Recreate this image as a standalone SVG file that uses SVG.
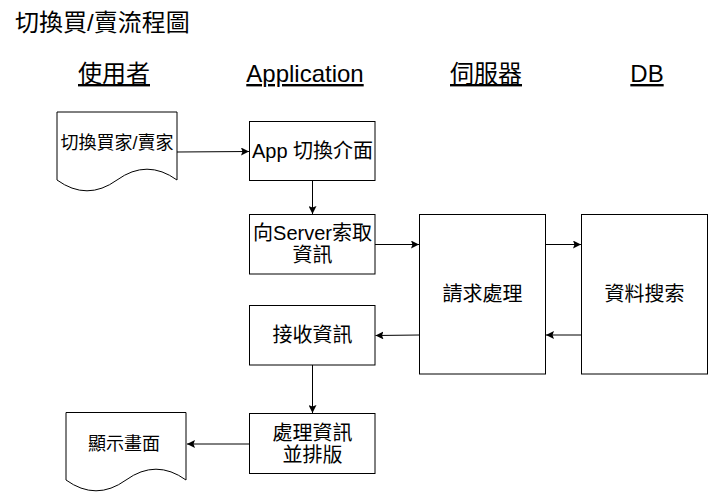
<svg xmlns="http://www.w3.org/2000/svg" width="727" height="503" viewBox="0 0 727 503">
<style>
text{font-family:"Liberation Sans","Noto Sans CJK TC",sans-serif;fill:#000}
.t{font-size:24px}
.h{font-size:24px;text-anchor:middle;text-decoration:underline}
.n{font-size:20px;text-anchor:middle}
.d{font-size:18px;text-anchor:middle}
.box{fill:#fff;stroke:#000;stroke-width:1}
.c{fill:none;stroke:#000;stroke-width:1;marker-end:url(#a)}
</style>
<defs>
<marker id="a" markerWidth="9" markerHeight="8" refX="8" refY="4" orient="auto" markerUnits="userSpaceOnUse">
<path d="M0,0 L8,4 L0,8 L1.5,4 z" fill="#000"/>
</marker>
</defs>
<rect width="727" height="503" fill="#fff"/>
<text class="t" x="15" y="31">切換買/賣流程圖</text>
<g id="headers">
<text class="h" x="114" y="82">使用者</text>
<text class="h" x="305" y="82">Application</text>
<text class="h" x="486" y="82">伺服器</text>
<text class="h" x="647" y="82">DB</text>
</g>
<g id="connectors">
<path class="c" d="M177,152 L249,151.5"/>
<path class="c" d="M312.5,180.5 V214"/>
<path class="c" d="M375,244.5 H419"/>
<path class="c" d="M545.5,244.5 H581"/>
<path class="c" d="M581.5,335 H546"/>
<path class="c" d="M419.5,335 L375.5,335.5"/>
<path class="c" d="M312.5,365 V413"/>
<path class="c" d="M249.5,444 H187"/>
</g>
<g id="doc1">
<path class="box" d="M57,112 H177 V180 Q147,158.4 117,180 Q87,201.6 57,180 Z"/>
<text class="d" x="117" y="149">切換買家/賣家</text>
</g>
<g id="app1">
<rect class="box" x="249.5" y="121.5" width="125.5" height="59"/>
<text class="n" x="312.5" y="158">App 切換介面</text>
</g>
<g id="app2">
<rect class="box" x="249.5" y="214.5" width="125.5" height="59.5"/>
<text class="n" x="312.5" y="240">向Server索取</text>
<text class="n" x="312.5" y="262">資訊</text>
</g>
<g id="server">
<rect class="box" x="419.5" y="214.5" width="126" height="159.5"/>
<text class="n" x="482.5" y="301">請求處理</text>
</g>
<g id="db">
<rect class="box" x="581.5" y="214.5" width="126" height="159.5"/>
<text class="n" x="644.5" y="301">資料搜索</text>
</g>
<g id="app3">
<rect class="box" x="249.5" y="305.5" width="125.5" height="59.5"/>
<text class="n" x="312.5" y="342">接收資訊</text>
</g>
<g id="app4">
<rect class="box" x="249.5" y="413.5" width="125.5" height="60"/>
<text class="n" x="312.5" y="440">處理資訊</text>
<text class="n" x="312.5" y="462">並排版</text>
</g>
<g id="doc2">
<path class="box" d="M66,412.5 H186 V480 Q156,458.4 126,480 Q96,501.6 66,480 Z"/>
<text class="d" x="124" y="450">顯示畫面</text>
</g>
</svg>
